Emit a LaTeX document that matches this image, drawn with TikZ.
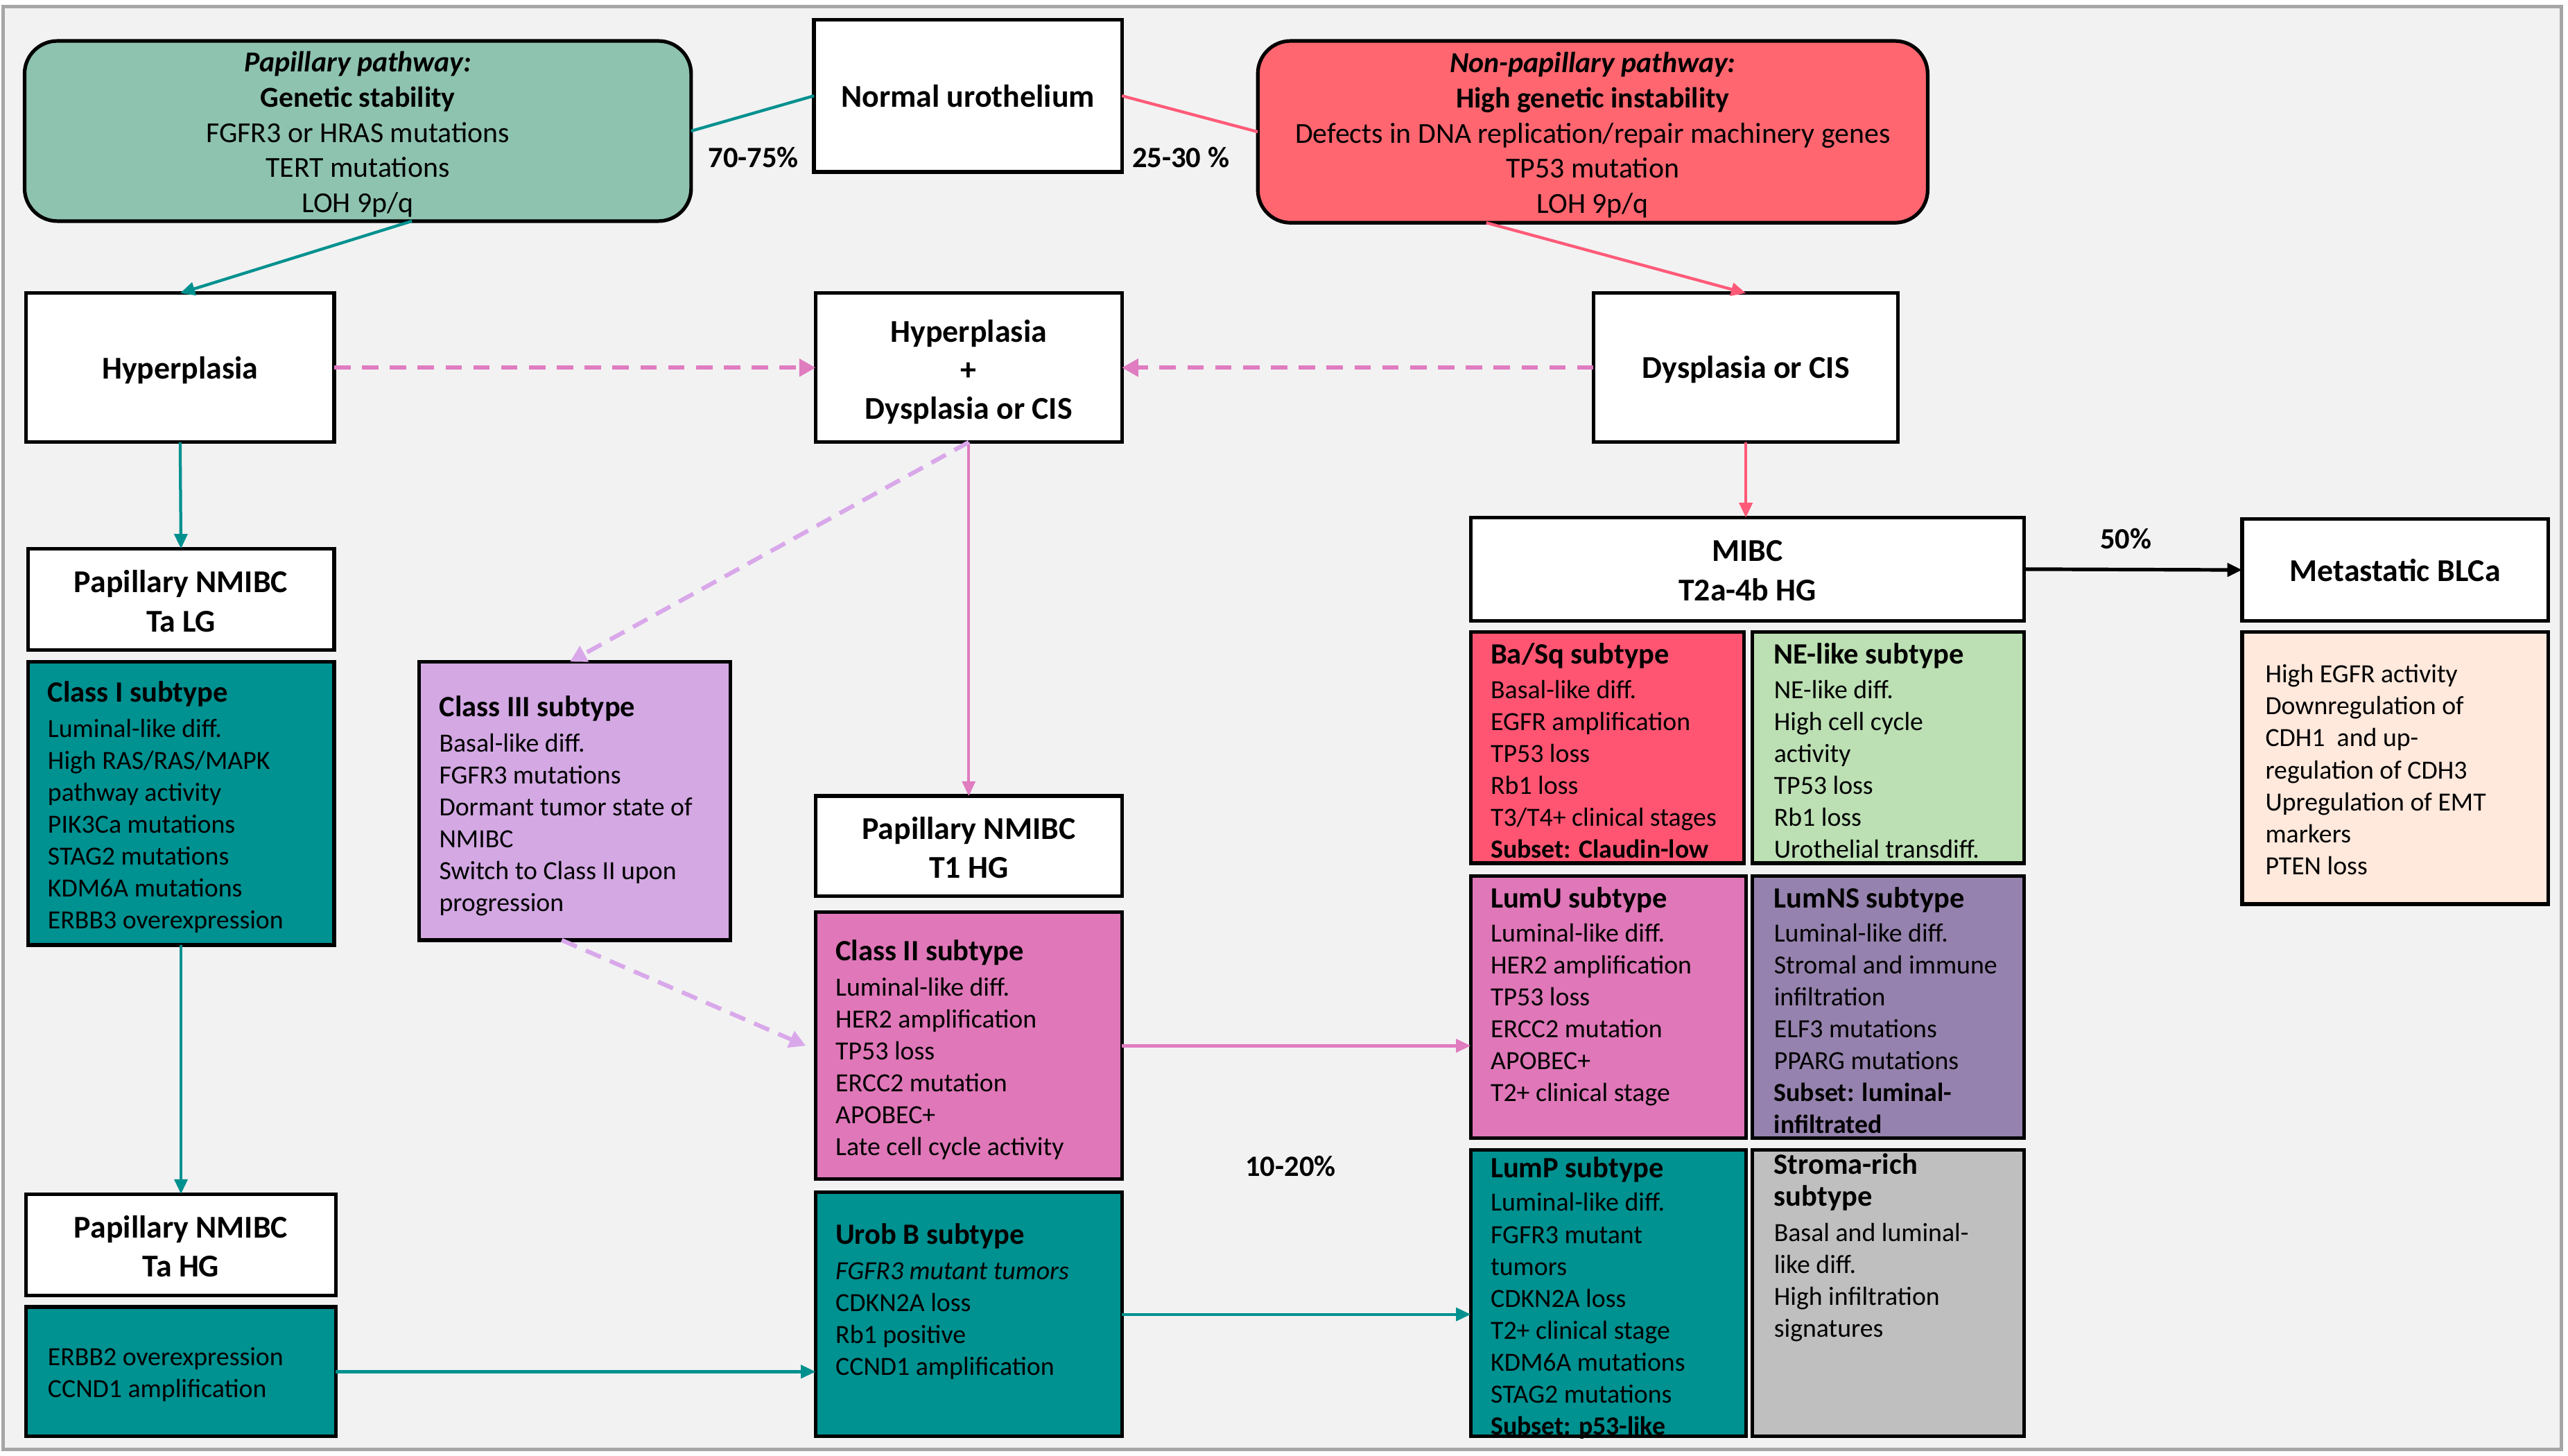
\documentclass[tikz,border=0pt]{standalone}
\usepackage{fontspec}
\setmainfont{Carlito}
\usetikzlibrary{arrows.meta}
\definecolor{papfill}{HTML}{8EC3B0}
\definecolor{nonpapfill}{HTML}{FF6670}
\definecolor{tealf}{HTML}{009191}
\definecolor{teall}{HTML}{00918F}
\definecolor{redl}{HTML}{FF5A78}
\definecolor{pinkd}{HTML}{E07CC0}
\definecolor{lavd}{HTML}{D9A8EA}
\definecolor{lavf}{HTML}{D3A8E3}
\definecolor{pinkf}{HTML}{DF77B8}
\definecolor{basqf}{HTML}{FF5572}
\definecolor{nef}{HTML}{BCE0B4}
\definecolor{lumnsf}{HTML}{9682AE}
\definecolor{strf}{HTML}{BFBFBF}
\definecolor{peachf}{HTML}{FFE8DC}
\definecolor{bgf}{HTML}{F2F2F2}
\definecolor{framec}{HTML}{A6A6A6}
\newcommand\subttl[1]{{\fontsize{18}{22}\selectfont\bfseries #1}}
\begin{document}
\begin{tikzpicture}[x=1pt,y=-1pt,
  wbox/.style={draw=black,line width=2.2pt,fill=white,inner sep=0pt,outer sep=0pt,align=center,font=\fontsize{19.4}{24}\selectfont\bfseries},
  cbox/.style={draw=black,line width=2.2pt,inner sep=0pt,outer sep=0pt,anchor=north west},
  txt/.style={anchor=north west,inner sep=0pt,align=left,font=\fontsize{16}{19.5}\selectfont},
  pathbox/.style={draw=black,line width=2.2pt,rounded corners=20pt,inner sep=0pt,outer sep=0pt},
  pathtxt/.style={inner sep=0pt,align=center,font=\fontsize{17.7}{21.5}\selectfont},
  wtxt/.style={inner sep=0pt,align=center,font=\fontsize{19.4}{23.5}\selectfont\bfseries},
  pct/.style={font=\fontsize{18}{22}\selectfont\bfseries,inner sep=0pt},
  tip/.style={-{Triangle[length=9pt,width=8pt]}},
  bigtip/.style={-{Triangle[length=10pt,width=10.5pt]}},
  tealc/.style={draw=teall,line width=1.8pt},
  redc/.style={draw=redl,line width=1.8pt},
  pinkdash/.style={draw=pinkd,line width=2.6pt,dash pattern=on 10pt off 7pt},
  lavdash/.style={draw=lavd,line width=2.6pt,dash pattern=on 10pt off 6pt},
  pinkc/.style={draw=pinkd,line width=1.6pt},
  blackc/.style={draw=black,line width=2.2pt}
]
\useasboundingbox (0,0) rectangle (1568,888.6);
\fill[white] (0,0) rectangle (1568,888.6);
\draw[framec,line width=2pt,fill=bgf] (2,4) rectangle (1564,885);

% top row
\node[pathbox,fill=papfill,minimum width=407pt,minimum height=110pt] (pap) at (218.5,80) {};
\node[pathtxt] (papt) at ([yshift=-2pt]pap.center)
 {{\bfseries\itshape Papillary pathway:}\\{\bfseries Genetic stability}\\FGFR3 or HRAS mutations\\TERT mutations\\LOH 9p/q};
\node[wbox,minimum width=188pt,minimum height=93pt] (normal) at (591,58.5) {Normal urothelium};
\node[pathbox,fill=nonpapfill,minimum width=409pt,minimum height=111pt] (nonpap) at (972.5,80.5) {};
\node[pathtxt] (nonpapt) at ([yshift=-2pt]nonpap.center)
 {{\bfseries\itshape Non-papillary pathway:}\\{\bfseries High genetic instability}\\Defects in DNA replication/repair machinery genes\\TP53 mutation\\LOH 9p/q};
\node[pct] (p7075) at (460,96) {70-75\%};
\node[pct] (p2530) at (721,96) {25-30 \%};

% second row
\node[wbox,minimum width=188pt,minimum height=91pt] (hyp) at (110,224.5) {};
\node[wtxt] (hypt) at ([yshift=-1.5pt]hyp.center) {Hyperplasia};
\node[wbox,minimum width=187pt,minimum height=91pt] (mid) at (591.5,224.5) {};
\node[wtxt] (midt) at ([yshift=-2.5pt]mid.center) {Hyperplasia\\+\\Dysplasia or CIS};
\node[wbox,minimum width=186pt,minimum height=91pt] (dys) at (1066,224.5) {};
\node[wtxt] (dyst) at ([yshift=-1pt]dys.center) {Dysplasia or CIS};

% left column
\node[wbox,minimum width=187pt,minimum height=62pt] (talg) at (110.5,366) {};
\node[wtxt,font=\fontsize{19.4}{24}\selectfont\bfseries] (talgt) at ([yshift=-1pt]talg.center) {Papillary NMIBC\\Ta LG};
\node[cbox,fill=tealf,minimum width=187pt,minimum height=173pt] (class1) at (17,404) {};
\node[txt] (class1t) at (29,415.7) {\subttl{Class I subtype}\\[2pt]Luminal-like diff.\\High RAS/RAS/MAPK\\pathway activity\\PIK3Ca mutations\\STAG2 mutations\\KDM6A mutations\\ERBB3 overexpression};
\node[wbox,minimum width=189pt,minimum height=62pt] (tahg) at (110.5,760) {};
\node[wtxt,font=\fontsize{19.4}{24}\selectfont\bfseries] (tahgt) at ([yshift=-1pt]tahg.center) {Papillary NMIBC\\Ta HG};
\node[cbox,fill=tealf,minimum width=189pt,minimum height=79pt] (erbb) at (16,798) {};
\node[txt] (erbbt) at (29,822.6) {ERBB2 overexpression\\CCND1 amplification};

% class III
\node[cbox,fill=lavf,minimum width=190pt,minimum height=170pt] (class3) at (256,404) {};
\node[txt] (class3t) at (268,424.7) {\subttl{Class III subtype}\\[2pt]Basal-like diff.\\FGFR3 mutations\\Dormant tumor state of\\NMIBC\\Switch to Class II upon\\progression};

% middle column
\node[wbox,minimum width=187pt,minimum height=61pt] (t1hg) at (591.5,516.5) {};
\node[wtxt,font=\fontsize{19.4}{24}\selectfont\bfseries] (t1hgt) at ([yshift=-1pt]t1hg.center) {Papillary NMIBC\\T1 HG};
\node[cbox,fill=pinkf,minimum width=187pt,minimum height=163pt] (class2) at (498,557) {};
\node[txt] (class2t) at (510,573.7) {\subttl{Class II subtype}\\[2pt]Luminal-like diff.\\HER2 amplification\\TP53 loss\\ERCC2 mutation\\APOBEC+\\Late cell cycle activity};
\node[cbox,fill=tealf,minimum width=187pt,minimum height=149pt] (urob) at (498,728) {};
\node[txt] (uromt) at (510,746.7) {\subttl{Urob B subtype}\\[2pt]\textit{FGFR3 mutant tumors}\\CDKN2A loss\\Rb1 positive\\CCND1 amplification};
\node[pct] (p1020) at (788,712) {10-20\%};

% MIBC
\node[wbox,minimum width=338pt,minimum height=63pt] (mibc) at (1067,347.5) {};
\node[wtxt,font=\fontsize{19.4}{24}\selectfont\bfseries] (mibct) at ([yshift=-1pt]mibc.center) {MIBC\\T2a-4b HG};
\node[wbox,minimum width=187pt,minimum height=62pt] (meta) at (1462.5,348) {Metastatic BLCa};
\node[pct] (p50) at (1298,329) {50\%};
\node[cbox,fill=peachf,minimum width=187pt,minimum height=166pt] (metainfo) at (1369,386) {};
\node[txt] (metainfot) at (1383,405.6) {High EGFR activity\\Downregulation of\\CDH1\ \ and up-\\regulation of CDH3\\Upregulation of EMT\\markers\\PTEN loss};

\node[cbox,fill=basqf,minimum width=167pt,minimum height=141pt] (basq) at (898,386) {};
\node[txt] (basqt) at (910,392.7) {\subttl{Ba/Sq subtype}\\[1.5pt]Basal-like diff.\\EGFR amplification\\TP53 loss\\Rb1 loss\\T3/T4+ clinical stages\\\textbf{Subset: Claudin-low}};
\node[cbox,fill=nef,minimum width=166pt,minimum height=141pt] (nelike) at (1070,386) {};
\node[txt] (neliket) at (1083,392.7) {\subttl{NE-like subtype}\\[1.5pt]NE-like diff.\\High cell cycle\\activity\\TP53 loss\\Rb1 loss\\Urothelial transdiff.};
\node[cbox,fill=pinkf,minimum width=168pt,minimum height=160pt] (lumu) at (898,535) {};
\node[txt] (lumut) at (910,541.7) {\subttl{LumU subtype}\\[1pt]Luminal-like diff.\\HER2 amplification\\TP53 loss\\ERCC2 mutation\\APOBEC+\\T2+ clinical stage};
\node[cbox,fill=lumnsf,minimum width=166pt,minimum height=160pt] (lumns) at (1070,535) {};
\node[txt] (lumnst) at (1083,541.7) {\subttl{LumNS subtype}\\[1pt]Luminal-like diff.\\Stromal and immune\\infiltration\\ELF3 mutations\\PPARG mutations\\\textbf{Subset: luminal-}\\\textbf{infiltrated}};
\node[cbox,fill=tealf,minimum width=168pt,minimum height=175pt] (lump) at (898,702) {};
\node[txt] (lumpt) at (910,706.2) {\subttl{LumP subtype}\\[1pt]Luminal-like diff.\\FGFR3 mutant\\tumors\\CDKN2A loss\\T2+ clinical stage\\KDM6A mutations\\STAG2 mutations\\\textbf{Subset: p53-like}};
\node[cbox,fill=strf,minimum width=166pt,minimum height=175pt] (stroma) at (1070,702) {};
\node[txt] (stromat) at (1083,704.2) {\subttl{Stroma-rich}\\\subttl{subtype}\\[2pt]Basal and luminal-\\like diff.\\High infiltration\\signatures};

% connectors
\draw[tealc] (pap.east) -- (normal.west);
\draw[redc] (normal.east) -- (nonpap.west);
\draw[tealc,tip] ([xshift=33pt]pap.south) -- (hyp.north);
\draw[redc,tip] ([xshift=-65pt]nonpap.south) -- (dys.north);
\draw[pinkdash,bigtip] (hyp.east) -- (mid.west);
\draw[pinkdash,bigtip] (dys.west) -- (mid.east);
\draw[tealc,tip] (hyp.south) -- (talg.north);
\draw[pinkc,tip] (mid.south) -- (t1hg.north);
\draw[lavdash,bigtip] (mid.south) -- ([xshift=-3pt]class3.north);
\draw[redc,tip] (dys.south) -- (dys.south |- mibc.north);
\draw[tealc,tip] (class1.south) -- (tahg.north);
\draw[tealc,tip] (erbb.east) -- (erbb.east -| urob.west);
\draw[lavdash,bigtip] ([xshift=-8pt]class3.south) -- ([xshift=-6pt]class2.west);
\draw[pinkc,line width=2pt,tip] (class2.east) -- (class2.east -| lumu.west);
\draw[tealc,tip] (urob.east) -- (urob.east -| lump.west);
\draw[blackc,tip] (mibc.east) -- (meta.west);
\end{tikzpicture}
\end{document}
